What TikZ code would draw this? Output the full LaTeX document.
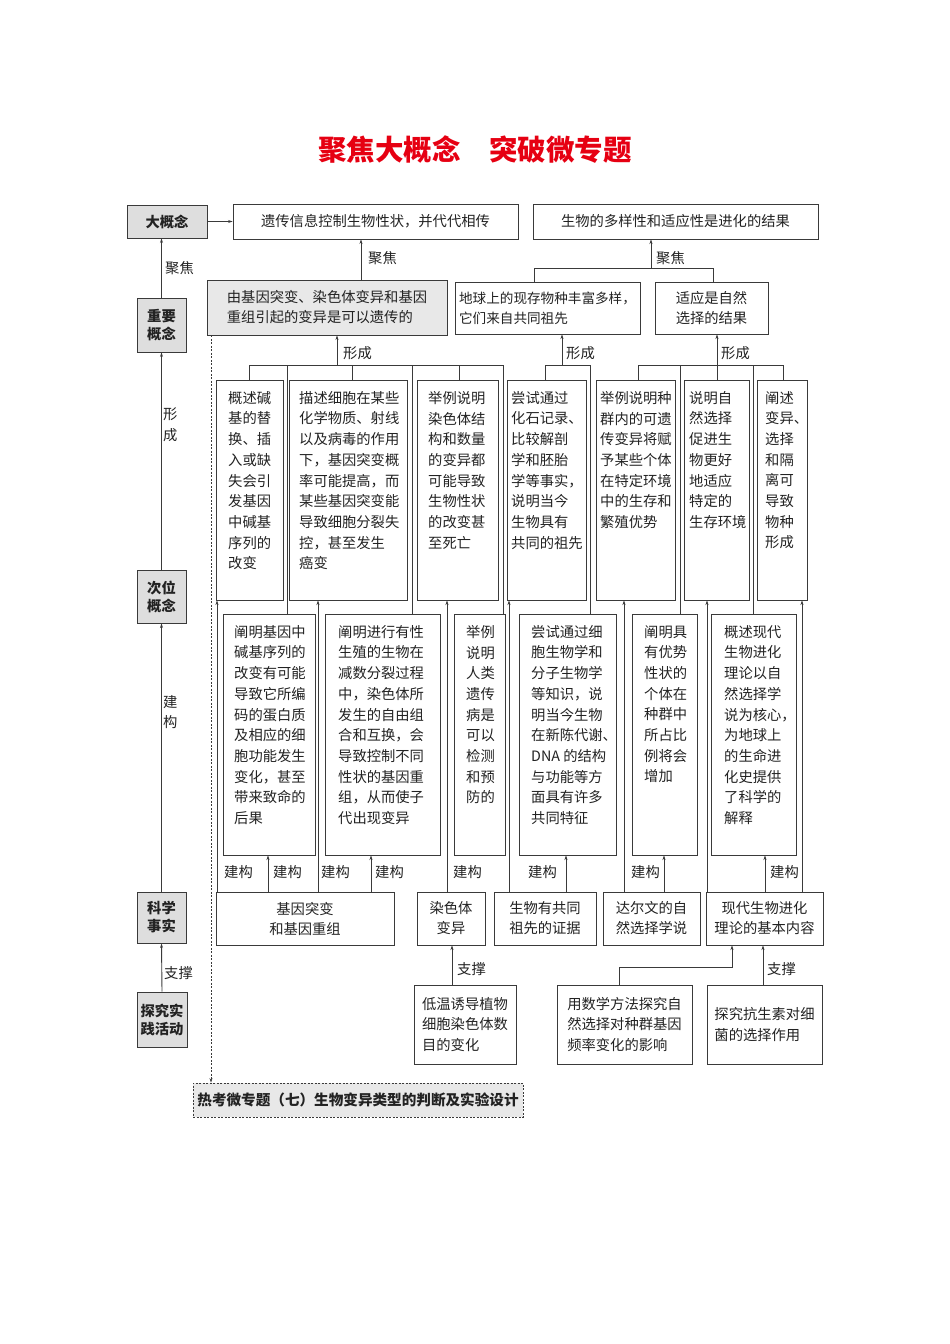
\documentclass[tikz,border=0pt]{standalone}
\usepackage{fontspec}
\setmainfont{Noto Sans CJK SC}
\usetikzlibrary{arrows.meta}
\definecolor{lc}{HTML}{3A3A3A}
\definecolor{gfill}{HTML}{DEDEDE}
\definecolor{gfill2}{HTML}{E8E8E8}
\definecolor{ttl}{HTML}{E60012}
\definecolor{tx}{HTML}{222222}
\newcommand\bodyf{\fontsize{14.3}{20.7}\selectfont}
\newcommand\twof{\fontsize{14.3}{20}\selectfont}
\newcommand\headf{\fontsize{14.3}{18}\selectfont\bfseries}
\tikzset{
 frame/.style={draw=lc, line width=0.9pt, inner sep=0pt, text=tx, font=\bodyf},
 gbox/.style={frame, fill=gfill},
 rect/.style n args={4}{minimum width={(#3-#1)*1pt}, minimum height={(#4-#2)*1pt}, at={({(#1+#3)/2},{(#2+#4)/2})}, anchor=center},
 conn/.style={draw=lc, line width=0.9pt},
 arr/.style={conn, -{Stealth[length=4.5pt,width=3pt]}},
 lbl/.style={inner sep=0pt, text=tx, font=\bodyf, anchor=west},
 tb/.style={inner sep=0pt, text=tx, font=\bodyf, align=left, anchor=north west},
}
% name, x1, y1, x2, y2, text-x, text
\newcommand\mybox[7]{%
 \node[frame, rect={#2}{#3}{#4}{#5}] (#1) {};
 \node[tb] (#1t) at (#6,#3+11) {#7};}
\begin{document}
\begin{tikzpicture}[x=1pt,y=-1pt]
\useasboundingbox (0,0) rectangle (950,1344);

% title
\node[inner sep=0pt, text=ttl, font=\fontsize{28.5}{30}\selectfont\bfseries] (title) at (475,150) {聚焦大概念\hspace{1em}突破微专题};

% left column
\node[gbox, rect={127}{205}{207}{238}, font=\headf] (big) {大概念};
\node[gbox, rect={137}{298}{186}{352}, font=\headf, align=center] (imp) {重要\\概念};
\node[gbox, rect={137}{570}{186}{623}, font=\headf, align=center] (sub) {次位\\概念};
\node[gbox, rect={137}{892}{186}{943}, font=\headf, align=center] (fact) {科学\\事实};
\node[gbox, rect={137}{992}{187}{1047}, font=\headf, align=center] (prac) {探究实\\践活动};
\draw[arr] (imp.north) -- (imp.north |- big.south);
\node[lbl] (lj1) at (165,268) {聚焦};
\draw[arr] (sub.north) -- (imp.south);
\node[lbl, align=left] (lj2) at (163,425) {形\\成};
\draw[arr] (fact.north) -- (sub.south);
\node[lbl, align=left] (lj3) at (163,712) {建\\构};
\draw[arr] (prac.north) -- (fact.south);
\node[lbl] (lj4) at (164,973) {支撑};

% top row
\node[frame, rect={233}{204}{518}{239}] (t1) {遗传信息控制生物性状，并代代相传};
\node[frame, rect={533}{204}{818}{239}] (t2) {生物的多样性和适应性是进化的结果};
\draw[arr] (big.east) -- (big.east -| t1.west);

% second row
\node[frame, fill=gfill2, rect={207}{280}{447}{335}, align=left, font=\twof] (g) {由基因突变、染色体变异和基因\\重组引起的变异是可以遗传的};
\node[frame, rect={455}{282}{640}{334}, align=left, font=\fontsize{13.6}{20}\selectfont] (e1) {地球上的现存物种丰富多样，\\它们来自共同祖先};
\node[frame, rect={655}{282}{768}{334}, align=center, font=\twof] (e2) {适应是自然\\选择的结果};
\coordinate (gu) at (361,260);
\draw[arr] (gu |- g.north) -- (gu |- t1.south);
\node[lbl] (lf1) at (368,258) {聚焦};
\coordinate (bu) at (651,268);
\coordinate (bul) at (534,268);
\coordinate (bur) at (713,268);
\draw[arr] (bu) -- (bu |- t2.south);
\draw[conn] (bul |- e1.north) -- (bul) -- (bur) -- (bur |- e2.north);
\node[lbl] (lf2) at (656,258) {聚焦};

% middle boxes
\mybox{m1}{216}{380}{283}{600}{228}{概述碱\\基的替\\换、插\\入或缺\\失会引\\发基因\\中碱基\\序列的\\改变}
\mybox{m2}{289}{380}{407}{600}{299}{描述细胞在某些\\化学物质、射线\\以及病毒的作用\\下，基因突变概\\率可能提高，而\\某些基因突变能\\导致细胞分裂失\\控，甚至发生\\癌变}
\mybox{m3}{417}{380}{498}{600}{428}{举例说明\\染色体结\\构和数量\\的变异都\\可能导致\\生物性状\\的改变甚\\至死亡}
\mybox{m4}{507}{380}{586}{600}{511}{尝试通过\\化石记录、\\比较解剖\\学和胚胎\\学等事实，\\说明当今\\生物具有\\共同的祖先}
\mybox{m5}{596}{380}{675}{600}{600}{举例说明种\\群内的可遗\\传变异将赋\\予某些个体\\在特定环境\\中的生存和\\繁殖优势}
\mybox{m6}{684}{380}{749}{600}{689}{说明自\\然选择\\促进生\\物更好\\地适应\\特定的\\生存环境}
\mybox{m7}{757}{380}{807}{600}{765}{阐述\\变异、\\选择\\和隔\\离可\\导致\\物种\\形成}

% lower boxes
\mybox{l1}{223}{614}{315}{855}{234}{阐明基因中\\碱基序列的\\改变有可能\\导致它所编\\码的蛋白质\\及相应的细\\胞功能发生\\变化，甚至\\带来致命的\\后果}
\mybox{l2}{325}{614}{440}{855}{338}{阐明进行有性\\生殖的生物在\\减数分裂过程\\中，染色体所\\发生的自由组\\合和互换，会\\导致控制不同\\性状的基因重\\组，从而使子\\代出现变异}
\mybox{l3}{454}{614}{505}{855}{466}{举例\\说明\\人类\\遗传\\病是\\可以\\检测\\和预\\防的}
\mybox{l4}{519}{614}{616}{855}{531}{尝试通过细\\胞生物学和\\分子生物学\\等知识，说\\明当今生物\\在新陈代谢、\\DNA 的结构\\与功能等方\\面具有许多\\共同特征}
\mybox{l5}{632}{614}{697}{855}{644}{阐明具\\有优势\\性状的\\个体在\\种群中\\所占比\\例将会\\增加}
\mybox{l6}{711}{614}{796}{855}{724}{概述现代\\生物进化\\理论以自\\然选择学\\说为核心，\\为地球上\\的生命进\\化史提供\\了科学的\\解释}

% buses (y = 365)
\coordinate (h1) at (337,365);
\draw[arr] (h1) -- (h1 |- g.south);
\node[lbl] (lx1) at (343,353) {形成};
\coordinate (a1) at (249,365); \coordinate (a2) at (287,365); \coordinate (a3) at (352,365);
\coordinate (a4) at (412,365); \coordinate (a5) at (459,365); \coordinate (a6) at (503,365);
\draw[conn] (a1 |- m1.north) -- (a1) -- (a6) -- (a6 |- l3.north);
\draw[conn] (a2) -- (a2 |- l1.north);
\draw[conn] (a3) -- (a3 |- m2.north);
\draw[conn] (a4) -- (a4 |- l2.north);
\draw[conn] (a5) -- (a5 |- m3.north);

\coordinate (h2) at (562,365);
\draw[arr] (h2) -- (h2 |- e1.south);
\node[lbl] (lx2) at (566,353) {形成};
\coordinate (b1) at (545,365); \coordinate (b2) at (590,365);
\draw[conn] (b1 |- m4.north) -- (b1) -- (b2) -- (b2 |- l4.north);

\coordinate (h3) at (717,365);
\draw[arr] (h3) -- (h3 |- e2.south);
\node[lbl] (lx3) at (721,353) {形成};
\coordinate (c1) at (638,365); \coordinate (c2) at (680,365); \coordinate (c3) at (717,365);
\coordinate (c4) at (753,365); \coordinate (c5) at (783,365);
\draw[conn] (c1 |- m5.north) -- (c1) -- (c5) -- (c5 |- m7.north);
\draw[conn] (c2) -- (c2 |- l5.north);
\draw[conn] (c3) -- (c3 |- m6.north);
\draw[conn] (c4) -- (c4 |- l6.north);

% fact boxes
\node[frame, rect={216}{892}{394}{945}, align=center, font=\twof] (f1) {基因突变\\和基因重组};
\node[frame, rect={417}{892}{485}{945}, align=center, font=\twof] (f2) {染色体\\变异};
\node[frame, rect={494}{892}{596}{945}, align=center, font=\twof] (f3) {生物有共同\\祖先的证据};
\node[frame, rect={603}{892}{700}{945}, align=center, font=\twof] (f4) {达尔文的自\\然选择学说};
\node[frame, rect={706}{892}{823}{945}, align=center, font=\twof] (f5) {现代生物进化\\理论的基本内容};

% up connectors from facts
\coordinate (u1) at (217,880); \draw[arr] (u1 |- f1.north) -- (u1 |- m1.south);
\coordinate (u2) at (268,880); \draw[arr] (u2 |- f1.north) -- (u2 |- l1.south);
\coordinate (u3) at (318,880); \draw[arr] (u3 |- f1.north) -- (u3 |- m2.south);
\coordinate (u4) at (371,880); \draw[arr] (u4 |- f1.north) -- (u4 |- l2.south);
\coordinate (u5) at (447,880); \draw[arr] (u5 |- f2.north) -- (u5 |- m3.south);
\coordinate (u6) at (509,880); \draw[arr] (u6 |- f3.north) -- (u6 |- m4.south);
\coordinate (u7) at (566,880); \draw[arr] (u7 |- f3.north) -- (u7 |- l4.south);
\coordinate (u8) at (624,880); \draw[arr] (u8 |- f4.north) -- (u8 |- m5.south);
\coordinate (u9) at (664,880); \draw[arr] (u9 |- f4.north) -- (u9 |- l5.south);
\coordinate (u10) at (707,880); \draw[arr] (u10 |- f5.north) -- (u10 |- m6.south);
\coordinate (u11) at (765,880); \draw[arr] (u11 |- f5.north) -- (u11 |- l6.south);
\coordinate (u12) at (802,880); \draw[arr] (u12 |- f5.north) -- (u12 |- m7.south);

% 建构 labels
\node[lbl] (k1) at (224,872) {建构};
\node[lbl] (k2) at (273,872) {建构};
\node[lbl] (k3) at (321,872) {建构};
\node[lbl] (k4) at (375,872) {建构};
\node[lbl] (k5) at (453,872) {建构};
\node[lbl] (k6) at (528,872) {建构};
\node[lbl] (k7) at (631,872) {建构};
\node[lbl] (k8) at (770,872) {建构};

% practice boxes
\node[frame, rect={414}{985}{516}{1064}, align=left] (d1) {低温诱导植物\\细胞染色体数\\目的变化};
\node[frame, rect={557}{985}{692}{1064}, align=left] (d2) {用数学方法探究自\\然选择对种群基因\\频率变化的影响};
\node[frame, rect={707}{985}{822}{1064}, align=left] (d3) {探究抗生素对细\\菌的选择作用};
\coordinate (s1) at (452,970);
\draw[arr] (s1 |- d1.north) -- (s1 |- f2.south);
\node[lbl] (ls1) at (457,969) {支撑};
\coordinate (s2a) at (619,967); \coordinate (s2b) at (732,967);
\draw[arr] (s2a |- d2.north) -- (s2a) -- (s2b) -- (s2b |- f5.south);
\coordinate (s3) at (763,970);
\draw[arr] (s3 |- d3.north) -- (s3 |- f5.south);
\node[lbl] (ls3) at (767,969) {支撑};

% hot topic
\node[frame, fill=gfill2, dash pattern=on 2pt off 1.5pt, line width=0.8pt, rect={193}{1083}{523}{1117}, font=\fontsize{14.6}{16}\selectfont\bfseries] (hot) {热考微专题（七）生物变异类型的判断及实验设计};
\coordinate (dl) at (211,700);
\draw[arr, line width=0.7pt, dash pattern=on 2pt off 1.5pt] (dl |- g.south) -- (dl |- hot.north);
\end{tikzpicture}
\end{document}
